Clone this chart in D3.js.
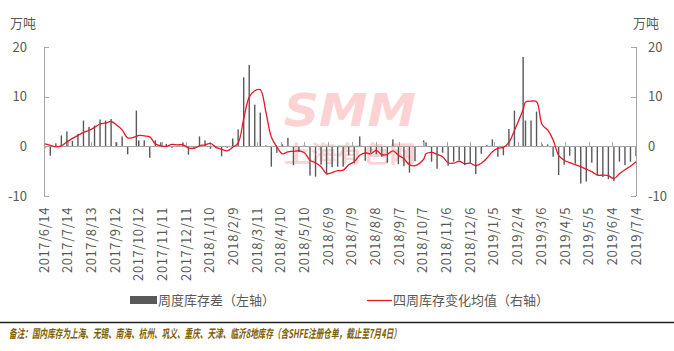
<!DOCTYPE html>
<html>
<head>
<meta charset="utf-8">
<script src="https://cdn.jsdelivr.net/npm/d3@7/dist/d3.min.js"></script>
<style>
  body { margin: 0; background: #fff; }
  text { font-family: "Noto Sans CJK SC", "Noto Sans", sans-serif; }
</style>
</head>
<body>
<svg id="chart" width="674" height="351"></svg>
<script>
// weekly inventory change (left axis), 10k t
const weeklyDiff = [
  -0.4, -1.9, 0.6, 2.2, 3.0, 1.1, 2.5, 5.2, 3.9, 4.2,
  5.4, 5.2, 5.5, 0.8, 2.0, -1.6, 7.2, 1.2, 1.2, -2.3,
  1.2, 0.8, 0.5, -0.3, 0.1, 0.8, -1.7, -0.4, 2.0, 1.2,
  -0.5, -0.4, -2.0, -0.3, 1.6, 3.4, 13.9, 16.4, 8.4, 6.8,
  0.2, -4.1, -1.3, 0.4, 1.7, -3.8, -1.1, 0.3, -5.9, -6.1,
  -3.7, -5.7, -4.2, -4.1, -4.1, -1.8, -3.4, 2.0, -2.9, -1.3,
  -1.6, -2.1, -3.3, 1.4, -3.6, -4.0, -5.3, -3.0, 1.2, 0.8,
  -3.1, -4.5, -1.3, -3.9, -3.1, -2.8, -3.8, -3.4, -5.6, -1.5,
  0.3, 1.4, -2.1, -1.8, 3.5, 7.2, 18.0, 5.2, 5.2, 7.0,
  0.4, 0.4, -2.1, -5.8, -3.7, -1.9, -3.5, -7.5, -7.1, -3.3,
  -5.8, -6.2, -6.6, -7.0, -3.1, -3.8, -3.1, -2.0
];

// four-week average change (right axis), 10k t
const avg4 = [
  0.5, 0.2, -0.1, 0.1, 0.9, 1.6, 2.2, 2.8, 3.2, 3.8,
  4.5, 4.7, 5.0, 4.3, 3.3, 1.7, 2.0, 2.2, 2.1, 1.9,
  0.5, 0.1, 0.0, 0.4, 0.3, 0.3, -0.3, -0.4, 0.1, 0.3,
  0.6, -0.2, -0.6, -0.9, -0.2, 0.7, 5.5, 9.9, 11.2, 11.4,
  7.0, 1.9, -0.1, -1.5, -1.1, -1.0, -0.9, -1.3, -2.8, -3.3,
  -4.1, -5.5, -5.3, -4.9, -4.8, -3.7, -3.1, -1.8, -1.3, -1.5,
  -0.8, -1.7, -1.6, -0.9, -1.8, -2.5, -3.7, -3.9, -2.6, -1.5,
  -1.2, -1.6, -2.1, -3.3, -3.4, -3.0, -3.5, -3.4, -3.9, -3.4,
  -2.4, -1.1, -0.4, -0.2, 0.8, 3.2, 7.4, 8.9, 9.1, 9.0,
  4.4, 3.3, 1.3, -1.8, -2.8, -3.3, -3.7, -4.1, -4.6, -5.1,
  -5.8, -5.8, -5.9, -6.5, -5.5, -4.7, -4.0, -3.1
];

// weekly Thursdays, except weeks reported after a holiday
const firstWeek = '2017-06-15';
const holidayWeeks = { 16: '2017-10-09', 68: '2018-10-08', 86: '2019-02-11' };

const xTickLabels = [
  '2017/6/14', '2017/7/14', '2017/8/13', '2017/9/12', '2017/10/12', '2017/11/11',
  '2017/12/11', '2018/1/10', '2018/2/9', '2018/3/11', '2018/4/10', '2018/5/10',
  '2018/6/9', '2018/7/9', '2018/8/8', '2018/9/7', '2018/10/7', '2018/11/6',
  '2018/12/6', '2019/1/5', '2019/2/4', '2019/3/6', '2019/4/5', '2019/5/5',
  '2019/6/4', '2019/7/4'
];
const yTicks = [-10, 0, 10, 20];

const parseISO = d3.timeParse('%Y-%m-%d');
const parseLbl = d3.timeParse('%Y/%m/%d');
const start = parseISO(firstWeek);
const dates = weeklyDiff.map((_, i) =>
  holidayWeeks[i] ? parseISO(holidayWeeks[i]) : d3.timeDay.offset(start, 7 * i));
const tickDates = xTickLabels.map(parseLbl);

const svg = d3.select('#chart');
const plot = { left: 44, right: 636, top: 47, bottom: 196 };
const axisColor = '#a6a6a6', textColor = '#595959', lineColor = '#e4172b';

const x = d3.scaleTime()
  .domain([tickDates[0], tickDates[tickDates.length - 1]])
  .range([plot.left, plot.right]);
const yL = d3.scaleLinear().domain([-10, 20]).range([plot.bottom, plot.top]);
const yR = d3.scaleLinear().domain([-10, 20]).range([plot.bottom, plot.top]);

// watermark
const wm = svg.append('g').attr('fill', '#fcd2d2');
wm.append('text')
  .attr('x', 284).attr('y', 126)
  .attr('font-size', 44).attr('font-weight', 'bold').attr('font-style', 'italic')
  .attr('textLength', 132).attr('lengthAdjust', 'spacingAndGlyphs')
  .style('font-family', '"DejaVu Sans", sans-serif')
  .text('SMM');
wm.append('text')
  .attr('x', 284).attr('y', 162)
  .attr('font-size', 23).attr('font-weight', 'bold')
  .attr('textLength', 132).attr('lengthAdjust', 'spacingAndGlyphs')
  .text('上海有色网');

// bars
svg.append('g').selectAll('rect')
  .data(weeklyDiff)
  .join('rect')
  .attr('x', (d, i) => x(dates[i]) - 0.7)
  .attr('width', 1.4)
  .attr('y', d => yL(Math.max(0, d)))
  .attr('height', d => Math.abs(yL(d) - yL(0)))
  .attr('fill', '#595959');

// axes
const ax = svg.append('g').attr('stroke', axisColor).attr('stroke-width', 1).attr('shape-rendering', 'crispEdges');
ax.append('line').attr('x1', plot.left + 0.5).attr('x2', plot.left + 0.5).attr('y1', plot.top).attr('y2', plot.bottom);
ax.append('line').attr('x1', plot.right + 0.5).attr('x2', plot.right + 0.5).attr('y1', plot.top).attr('y2', plot.bottom);
ax.append('line').attr('x1', plot.left).attr('x2', plot.right).attr('y1', yL(0) + 0.5).attr('y2', yL(0) + 0.5);
ax.append('g').selectAll('line').data(yTicks).join('line')
  .attr('x1', plot.left).attr('x2', plot.left + 5)
  .attr('y1', d => yL(d) + 0.5).attr('y2', d => yL(d) + 0.5);
ax.append('g').selectAll('line').data(yTicks).join('line')
  .attr('x1', plot.right - 5).attr('x2', plot.right)
  .attr('y1', d => yR(d) + 0.5).attr('y2', d => yR(d) + 0.5);
ax.append('g').selectAll('line').data(tickDates).join('line')
  .attr('x1', d => Math.round(x(d)) + 0.5).attr('x2', d => Math.round(x(d)) + 0.5)
  .attr('y1', yL(0) - 4).attr('y2', yL(0));

// y tick labels
svg.append('g').selectAll('text').data(yTicks).join('text')
  .attr('x', 27).attr('y', d => yL(d)).attr('dy', '0.35em')
  .attr('text-anchor', 'end').attr('font-size', 13).attr('fill', textColor)
  .text(d => d);
svg.append('g').selectAll('text').data(yTicks).join('text')
  .attr('x', 648).attr('y', d => yR(d)).attr('dy', '0.35em')
  .attr('font-size', 13).attr('fill', textColor)
  .text(d => d);

svg.append('text').attr('x', 10).attr('y', 28).attr('font-size', 13).attr('fill', textColor).text('万吨');
svg.append('text').attr('x', 633).attr('y', 28).attr('font-size', 13).attr('fill', textColor).text('万吨');

// x tick labels, rotated
svg.append('g').selectAll('text').data(tickDates).join('text')
  .attr('transform', d => `translate(${x(d)},207) rotate(-90)`)
  .attr('dy', '0.35em').attr('text-anchor', 'end')
  .attr('font-size', 13).attr('letter-spacing', 0.6).attr('fill', textColor)
  .text((d, i) => xTickLabels[i]);

// average line
const line = d3.line()
  .x((d, i) => x(dates[i]))
  .y(d => yR(d))
  .curve(d3.curveCatmullRom.alpha(0.5));
svg.append('path')
  .datum(avg4)
  .attr('d', line)
  .attr('fill', 'none')
  .attr('stroke', lineColor)
  .attr('stroke-width', 1.3);

// legend
const lg = svg.append('g');
lg.append('rect').attr('x', 130).attr('y', 296).attr('width', 27).attr('height', 8).attr('fill', '#595959');
lg.append('text').attr('x', 158).attr('y', 300).attr('dy', '0.35em').attr('font-size', 13).attr('fill', textColor)
  .text('周度库存差（左轴）');
lg.append('line').attr('x1', 367).attr('x2', 392).attr('y1', 300.5).attr('y2', 300.5)
  .attr('stroke', lineColor).attr('stroke-width', 1.3);
lg.append('text').attr('x', 393).attr('y', 300).attr('dy', '0.35em').attr('font-size', 13).attr('fill', textColor)
  .text('四周库存变化均值（右轴）');

// footnote
svg.append('line').attr('x1', 0).attr('x2', 674).attr('y1', 322.5).attr('y2', 322.5)
  .attr('stroke', '#222').attr('stroke-width', 1.5);
svg.append('text').attr('x', 9).attr('y', 338)
  .attr('font-size', 12).attr('font-weight', 'bold').attr('font-style', 'italic')
  .attr('fill', '#7f6000')
  .attr('textLength', 392).attr('lengthAdjust', 'spacingAndGlyphs')
  .text('备注：国内库存为上海、无锡、南海、杭州、巩义、重庆、天津、临沂8地库存（含SHFE注册仓单，截止至7月4日）');
</script>
</body>
</html>
